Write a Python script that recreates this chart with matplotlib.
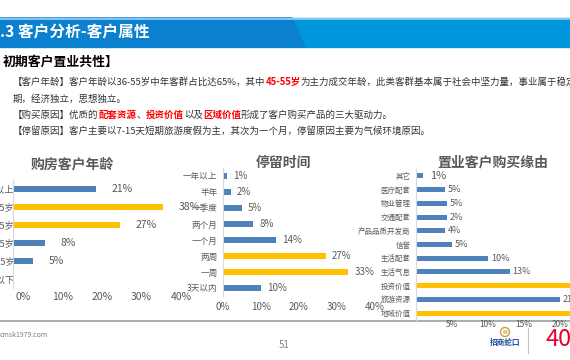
import matplotlib
matplotlib.use('Agg')
import matplotlib.pyplot as plt
from matplotlib.patches import Polygon, Rectangle, Circle
from matplotlib.transforms import ScaledTranslation

plt.rcParams['font.family'] = ['Noto Sans CJK SC', 'DejaVu Sans']

# data
age_labels = ['55岁以上', '45-55岁', '35-45岁', '25-35岁', '18-25岁', '18岁以下']
age_values = [21, 38, 27, 8, 5, 0]
age_colors = ['#4f81bd', '#ffc000', '#ffc000', '#4f81bd', '#4f81bd', '#4f81bd']

stay_labels = ['一年以上', '半年', '一季度', '两个月', '一个月', '两周', '一周', '3天以内']
stay_values = [1, 2, 5, 8, 14, 27, 33, 10]
stay_colors = ['#4f81bd'] * 5 + ['#ffc000'] * 2 + ['#4f81bd']

reason_labels = ['其它', '医疗配套', '物业管理', '交通配套', '产品品质开发商', '信誉',
                 '生活配套', '生活气息', '投资价值', '旅游资源', '地域价值']
reason_values = [1, 4, 4.3, 4.3, 4, 5, 10, 13, 30, 20, 30]
reason_text = ['1%', '5%', '5%', '2%', '4%', '5%', '10%', '13%', '', '21%', '']
reason_colors = ['#4f81bd'] * 8 + ['#ffc000', '#4f81bd', '#ffc000']

W, H = 570, 360
fig = plt.figure(figsize=(W / 100, H / 100), dpi=100)
bg = fig.add_axes([0, 0, 1, 1])
bg.set_xlim(0, W)
bg.set_ylim(H, 0)
bg.axis('off')

GRAY = '#595959'


def px_axes(x0, x1, top, bottom):
    return fig.add_axes([x0 / W, 1 - bottom / H, (x1 - x0) / W, (bottom - top) / H])


# header band
bg.add_patch(Rectangle((0, 18), W, 29, color='#0096db', zorder=1))
bg.add_patch(Polygon([(0, 18), (292, 18), (305, 47), (0, 47)], color='#0a80cf', zorder=2))
bg.plot([0, W], [18.5, 18.5], color='#9fd2f2', lw=1.2, zorder=3)
bg.text(0, 32.5, '.3 客户分析-客户属性', color='white', fontsize=11.3, fontweight='bold',
        va='center', ha='left', zorder=4)

bg.text(3, 62, '初期客户置业共性】', color='black', fontsize=9.3, fontweight='bold',
        va='center', ha='left')

renderer = fig.canvas.get_renderer()


def rich(x, y, parts):
    for s, color, weight in parts:
        t = bg.text(x, y, s, color=color, fontweight=weight, fontsize=6.8,
                    va='center', ha='left')
        x += t.get_window_extent(renderer).width


TXT = '#333333'
RED = '#ff0000'
rich(13, 82, [('【客户年龄】客户年龄以36-55岁中年客群占比达65%，其中', TXT, 'normal'),
              ('45-55岁', RED, 'bold'),
              ('为主力成交年龄，此类客群基本属于社会中坚力量，事业属于稳定', TXT, 'normal')])
rich(13, 99, [('期，经济独立，思想独立。', TXT, 'normal')])
rich(13, 115, [('【购买原因】优质的', TXT, 'normal'), ('配套资源', RED, 'bold'),
               ('、', TXT, 'normal'), ('投资价值', RED, 'bold'),
               ('以及', TXT, 'normal'), ('区域价值', RED, 'bold'),
               ('形成了客户购买产品的三大驱动力。', TXT, 'normal')])
rich(13, 131, [('【停留原因】客户主要以7-15天短期旅游度假为主，其次为一个月，停留原因主要为气候环境原因。',
                TXT, 'normal')])


def style(ax, fs):
    for s in ['top', 'right', 'bottom']:
        ax.spines[s].set_visible(False)
    ax.spines['left'].set_color('#d9d9d9')
    ax.tick_params(length=0, labelsize=fs, colors=GRAY)
    ax.patch.set_alpha(0)


# chart 1: age
ax1 = px_axes(13, 171, 180, 288)
ax1.barh(range(len(age_values)), age_values, height=0.34, color=age_colors)
ax1.set_yticks(range(len(age_labels)), age_labels)
ax1.set_ylim(5.5, -0.5)
ax1.set_xlim(0, 40)
ax1.set_xticks([0, 10, 20, 30, 40], ['0%', '10%', '20%', '30%', '40%'])
style(ax1, 7.5)
ax1.tick_params(axis='y', pad=-1, labelsize=6.5)
ax1.tick_params(axis='x', pad=3)
off = ScaledTranslation(10 / 100, 0, fig.dpi_scale_trans)
for lab in ax1.get_xticklabels():
    lab.set_transform(lab.get_transform() + off)
for i, v in enumerate(age_values):
    if v:
        ax1.annotate(f'{v}%', (v, i), xytext=(16, 0), textcoords='offset pixels',
                     va='center', ha='left', fontsize=7.5, color=GRAY)
bg.text(72, 164, '购房客户年龄', fontsize=10, fontweight='bold', color=GRAY,
        ha='center', va='center')

# chart 2: stay time
ax2 = px_axes(223, 375, 168, 296)
ax2.barh(range(len(stay_values)), stay_values, height=0.36, color=stay_colors)
ax2.set_yticks(range(len(stay_labels)), stay_labels)
ax2.set_ylim(7.5, -0.5)
ax2.set_xlim(0, 40)
ax2.set_xticks([0, 10, 20, 30, 40], ['0%', '10%', '20%', '30%', '40%'])
style(ax2, 7)
ax2.tick_params(axis='y', pad=4, labelsize=6.2)
ax2.tick_params(axis='x', pad=4)
for i, v in enumerate(stay_values):
    ax2.annotate(f'{v}%', (v, i), xytext=(6, 0), textcoords='offset pixels',
                 va='center', ha='left', fontsize=7, color=GRAY)
bg.text(283, 163, '停留时间', fontsize=10, fontweight='bold', color=GRAY,
        ha='center', va='center')

# chart 3: purchase reasons
ax3 = px_axes(416, 416 + 7.2 * 30, 169, 320)
ax3.barh(range(len(reason_values)), reason_values, height=0.36, color=reason_colors)
ax3.set_yticks(range(len(reason_labels)), reason_labels)
ax3.set_ylim(10.5, -0.5)
ax3.set_xlim(0, 30)
ax3.set_xticks([5, 10, 15, 20], ['5%', '10%', '15%', '20%'])
style(ax3, 6)
ax3.tick_params(axis='y', pad=4, labelsize=5.4)
ax3.tick_params(axis='x', pad=0, labelsize=6)
for i, (v, s) in enumerate(zip(reason_values, reason_text)):
    if s:
        ax3.annotate(s, (v, i), xytext=(7 if i == 0 else 3, 0), textcoords='offset pixels',
                     va='center', ha='left', fontsize=8 if i == 0 else 6.5, color=GRAY)
bg.text(493, 163, '置业客户购买缘由', fontsize=10, fontweight='bold', color=GRAY,
        ha='center', va='center')

# footer
bg.plot([0, W], [320.5, 320.5], color='#a6a6a6', lw=1.3, zorder=5)
bg.text(0, 335, 'cmsk1979.com', fontsize=5, color='#808080', va='center', ha='left')
bg.text(284, 345, '51', fontsize=7, color='#808080', va='center', ha='center')
bg.add_patch(Circle((505, 332), 4.5, fill=False, ec='#c9a23a', lw=1))
bg.text(505, 332, 'M', fontsize=4, color='#c9a23a', ha='center', va='center', fontweight='bold')
bg.text(505, 343, '招商蛇口', fontsize=5.5, color='#1a4f9c', ha='center', va='center',
        fontweight='bold')
bg.plot([528, 528], [328, 353], color='#c0c0c0', lw=0.8)
bg.text(545, 340, '40', fontsize=17, color='#e6002d', ha='left', va='center')

plt.savefig('out.png', dpi=100)
